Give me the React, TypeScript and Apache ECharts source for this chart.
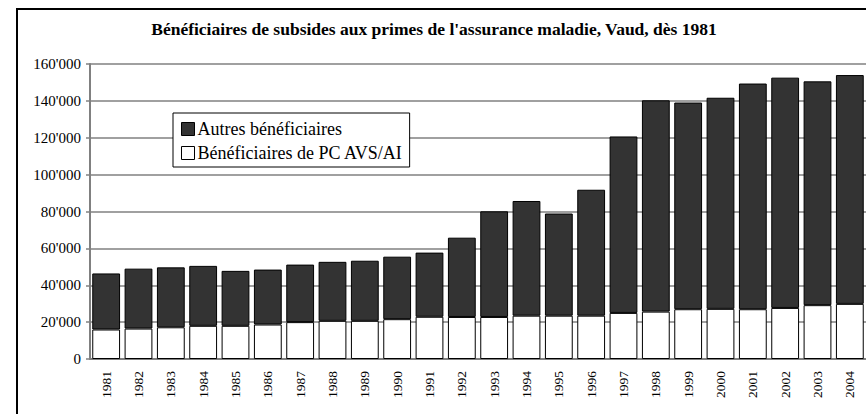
import React, { useEffect, useRef } from "react";
import * as echarts from "echarts";

const years = [
  "1981", "1982", "1983", "1984", "1985", "1986", "1987", "1988", "1989", "1990", "1991", "1992",
  "1993", "1994", "1995", "1996", "1997", "1998", "1999", "2000", "2001", "2002", "2003", "2004",
];

const pcAvsAi = [
  16000, 16500, 17200, 18000, 18000, 18700, 20000, 20700, 20700, 21600, 22900, 22800,
  22800, 23500, 23500, 23500, 25000, 25700, 27000, 27200, 27000, 27700, 29200, 29900,
];

const autres = [
  30400, 32500, 32500, 32500, 29800, 29800, 31200, 32000, 32600, 33900, 34800, 43000,
  57300, 62200, 55400, 68300, 95700, 114600, 112100, 114500, 122400, 124900, 121400, 124100,
];

const seriesNames = ["Autres bénéficiaires", "Bénéficiaires de PC AVS/AI"];
const title = "Bénéficiaires de subsides aux primes de l'assurance maladie, Vaud, dès 1981";

const SERIF = "Liberation Serif";

function fmt(v: number): string {
  if (v === 0) return "0";
  const th = Math.floor(v / 1000);
  const rest = String(v % 1000).padStart(3, "0");
  return `${th}'${rest}`;
}

export default function App() {
  const ref = useRef<HTMLDivElement>(null);
  useEffect(() => {
    if (!ref.current) return;
    const chart = echarts.init(ref.current, undefined, { renderer: "svg" });
    chart.setOption({
      animation: false,
      backgroundColor: "#ffffff",
      textStyle: { fontFamily: SERIF },
      title: {
        text: title,
        left: 429,
        textAlign: "center",
        top: 15,
        textStyle: { fontFamily: SERIF, fontSize: 17.5, fontWeight: "bold", color: "#000" },
      },
      graphic: [
        {
          type: "rect",
          shape: { x: 17, y: 9, width: 900, height: 450 },
          style: { fill: "none", stroke: "#000", lineWidth: 2 },
          z: 100,
        },
      ],
      legend: {
        orient: "vertical",
        left: 173,
        top: 113,
        data: seriesNames,
        backgroundColor: "#fff",
        borderColor: "#000",
        borderWidth: 1,
        padding: [6, 7, 4, 8],
        itemWidth: 13,
        itemHeight: 13,
        itemGap: 4,
        itemStyle: { borderColor: "#000", borderWidth: 1 },
        textStyle: { fontFamily: SERIF, fontSize: 18, color: "#000", lineHeight: 20, padding: [0, 0, 0, -2] },
        icon: "rect",
        z: 10,
      },
      grid: { left: 90, right: -3, top: 64, bottom: 55, containLabel: false },
      xAxis: {
        type: "category",
        data: years,
        axisLine: { lineStyle: { color: "#808080", width: 2 } },
        axisTick: { interval: 0, length: 5, lineStyle: { color: "#808080", width: 1.5 } },
        axisLabel: {
          interval: 0,
          rotate: 90,
          margin: 12,
          fontFamily: SERIF,
          fontSize: 13.5,
          color: "#000",
        },
      },
      yAxis: {
        type: "value",
        min: 0,
        max: 160000,
        interval: 20000,
        axisLine: { show: true, lineStyle: { color: "#808080", width: 2 } },
        axisTick: { show: true, length: 4, lineStyle: { color: "#808080", width: 1.5 } },
        splitLine: { lineStyle: { color: "#808080", width: 1.5 } },
        axisLabel: {
          formatter: (v: number) => fmt(v),
          margin: 9,
          fontFamily: SERIF,
          fontSize: 15,
          color: "#000",
        },
      },
      series: [
        {
          name: seriesNames[1],
          type: "bar",
          stack: "total",
          data: pcAvsAi,
          barCategoryGap: "14%",
          itemStyle: { color: "#ffffff", borderColor: "#000", borderWidth: 1 },
        },
        {
          name: seriesNames[0],
          type: "bar",
          stack: "total",
          data: autres,
          barCategoryGap: "14%",
          itemStyle: { color: "#333333", borderColor: "#000", borderWidth: 1 },
        },
      ],
    });
    return () => chart.dispose();
  }, []);
  return (
    <div
      ref={ref}
      style={{ position: "absolute", left: 0, top: 0, width: 866, height: 414 }}
    />
  );
}
